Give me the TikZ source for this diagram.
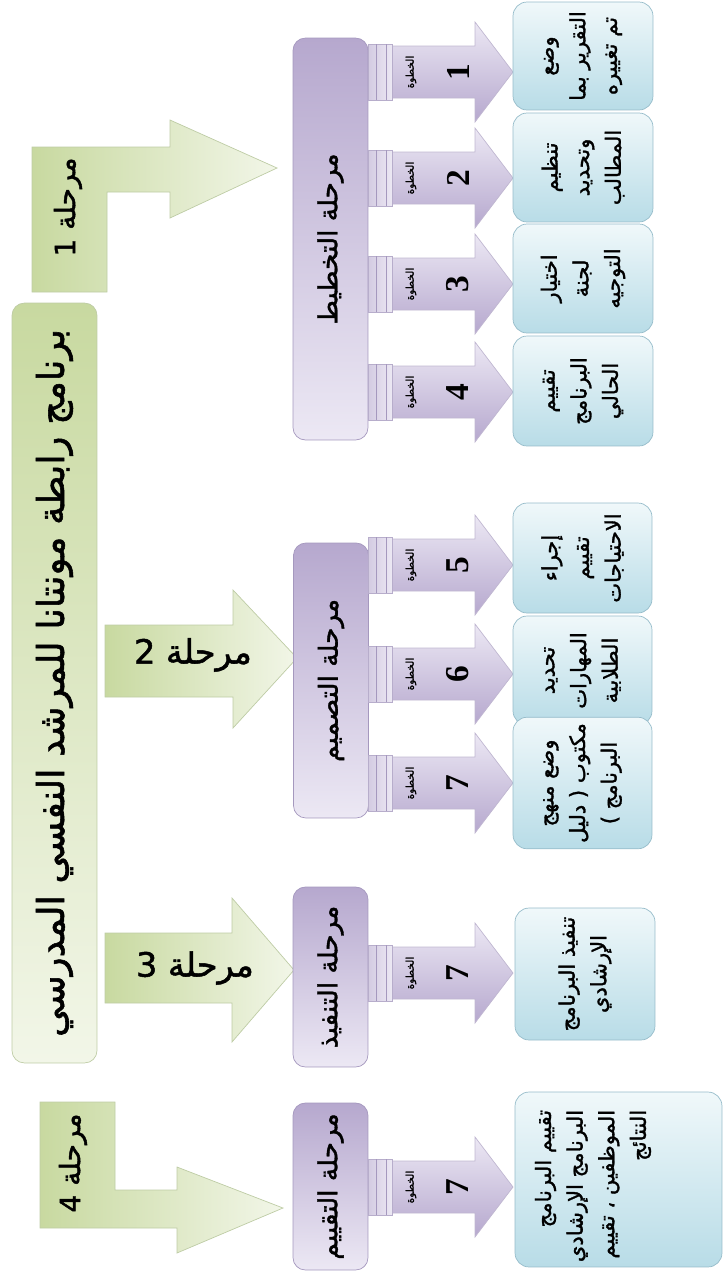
\documentclass[tikz,border=0pt]{standalone}
\usepackage{fontspec}
\newfontfamily\arabicfont[Script=Arabic,FakeBold=1.5]{DejaVu Sans}
\newfontfamily\numfont{Liberation Serif}
\TeXXeTstate=1
\usetikzlibrary{positioning}

\definecolor{grnL}{RGB}{242,246,232}
\definecolor{grnD}{RGB}{200,217,160}
\definecolor{grnE}{RGB}{190,204,165}
\definecolor{purL}{RGB}{236,232,244}
\definecolor{purD}{RGB}{182,168,206}
\definecolor{purE}{RGB}{165,152,190}
\definecolor{bluL}{RGB}{240,248,250}
\definecolor{bluD}{RGB}{184,220,231}
\definecolor{bluE}{RGB}{150,188,202}

\newcommand{\ar}[1]{{\arabicfont\beginR #1\endR}}

\tikzset{
  titlebox/.style={draw=grnE, rounded corners=7pt, top color=grnD, bottom color=grnL,
    font=\fontsize{21}{24}\selectfont},
  greenarrow/.style={draw=grnE, left color=grnD, right color=grnL},
  phaselbl/.style={inner sep=1pt, font=\fontsize{16}{18}\selectfont},
  stagebar/.style={draw=purE, rounded corners=7pt, top color=purD, bottom color=purL,
    minimum height=1.5cm, font=\fontsize{15}{18}\selectfont},
  steparrow/.style={draw=purE!70, top color=purL, bottom color=purD},
  pillar/.style={draw=purE!80, left color=purD!60, right color=purL},
  steplbl/.style={inner sep=0pt, font=\fontsize{6}{7}\selectfont},
  stepnum/.style={inner sep=0pt, font=\fontsize{19}{20}\selectfont\numfont\bfseries},
  stepbox/.style={draw=bluE, rounded corners=8pt, top color=bluL, bottom color=bluD,
    align=center, font=\fontsize{12}{18}\selectfont},
  boxtext/.style={inner sep=0pt, font=\fontsize{12}{18}\selectfont}
}

\begin{document}
\begin{tikzpicture}[x=0.02cm,y=-0.02cm]
  \useasboundingbox (0,0) rectangle (725,1279);

  %%% programme title %%%
  \node[titlebox, rotate=90, minimum width=15.2cm, minimum height=1.7cm] (title) at (54.5,683)
    {\ar{برنامج رابطة مونتانا للمرشد النفسي المدرسي}};

  %%% phase arrows %%%
  \path[greenarrow] (32,292) -- (32,147) -- (170,147) -- (170,120) -- (277,168)
    -- (170,218) -- (170,192) -- (107,192) -- (107,292) -- cycle;
  \path[greenarrow] (105,625) -- (233,625) -- (233,590) -- (297,658)
    -- (233,728) -- (233,697) -- (105,697) -- cycle;
  \path[greenarrow] (105,933) -- (232,933) -- (232,898) -- (294,970)
    -- (232,1042) -- (232,1003) -- (105,1003) -- cycle;
  \path[greenarrow] (40,1102) -- (115,1102) -- (115,1190) -- (177,1190) -- (177,1167)
    -- (283,1208) -- (177,1253) -- (177,1228) -- (40,1228) -- cycle;

  \node[phaselbl, rotate=90] (ph1) at (68,207) {\ar{مرحلة 1}};
  \node[phaselbl, font=\fontsize{19}{21}\selectfont] (ph2) at (193,655) {\ar{مرحلة 2}};
  \node[phaselbl, font=\fontsize{19}{21}\selectfont] (ph3) at (195,968) {\ar{مرحلة 3}};
  \node[phaselbl, rotate=90] (ph4) at (73,1163) {\ar{مرحلة 4}};

  %%% stages %%%
  \node[stagebar, rotate=90, minimum width=8.04cm] (plan) at (330.5,239) {\ar{مرحلة التخطيط}};
  \node[stagebar, rotate=90, minimum width=5.5cm] (design) at (331,680.5) {\ar{مرحلة التصميم}};
  \node[stagebar, rotate=90, minimum width=3.6cm] (impl) at (330.5,977) {\ar{مرحلة التنفيذ}};
  \node[stagebar, rotate=90, minimum width=3.34cm] (evalu) at (330.5,1186.5) {\ar{مرحلة التقييم}};

  %%% steps %%%
  \foreach \c/\n [count=\i] in {72/1,178/2,284/3,392/4,565/5,674/6,783/7,973/7,1187/7}{
    \path[steparrow] (392,\c-26) -- (475,\c-26) -- (475,\c-50) -- (513,\c)
      -- (475,\c+50) -- (475,\c+26) -- (392,\c+26) -- cycle;
    \path[pillar] (368,\c-28) rectangle (392,\c+28);
    \draw[purE] (376,\c-28) -- (376,\c+28) (386,\c-28) -- (386,\c+28);
    \node[steplbl, rotate=90] (lbl\i) at (411,\c) {\ar{الخطوة}};
    \node[stepnum, rotate=90] (num\i) at (458,\c) {\n};
  }

  \node[stepbox, rotate=90, minimum width=2.16cm, minimum height=2.8cm] (b1) at (583,56)
    {\ar{وضع}\\\ar{التقرير بما}\\\ar{تم تغييره}};
  \node[stepbox, rotate=90, minimum width=2.18cm, minimum height=2.8cm] (b2) at (583,167.5)
    {\ar{تنظيم}\\\ar{وتحديد}\\\ar{المطالب}};
  \node[stepbox, rotate=90, minimum width=2.18cm, minimum height=2.8cm] (b3) at (583,278.5)
    {\ar{اختيار}\\\ar{لجنة}\\\ar{التوجيه}};
  \node[stepbox, rotate=90, minimum width=2.2cm, minimum height=2.8cm] (b4) at (583,391)
    {\ar{تقييم}\\\ar{البرنامج}\\\ar{الحالي}};
  \node[stepbox, rotate=90, minimum width=2.2cm, minimum height=2.78cm] (b5) at (582.5,558)
    {\ar{إجراء}\\\ar{تقييم}\\\ar{الاحتياجات}};
  \node[stepbox, rotate=90, minimum width=2.18cm, minimum height=2.78cm] (b6) at (582.5,670.5)
    {\ar{تحديد}\\\ar{المهارات}\\\ar{الطلابية}};
  \node[stepbox, rotate=90, minimum width=2.2cm, minimum height=2.78cm] (b7) at (582.5,783)
    {\ar{وضع منهج}\\\ar{مكتوب ( دليل}\\\ar{البرنامج )}};
  \node[stepbox, rotate=90, minimum width=2.64cm, minimum height=2.8cm] (b8) at (585,974)
    {\ar{تنفيذ البرنامج}\\\ar{الإرشادي}};
  \node[stepbox, rotate=90, minimum width=3.5cm, minimum height=4.14cm] (b9) at (618.5,1179.5) {};
  \node[boxtext, rotate=90, align=right] (t9) at (593,1186)
    {\ar{تقييم البرنامج}\\\ar{البرنامج الإرشادي}\\\ar{الموظفين ، تقييم}\\\ar{النتائج}};

\end{tikzpicture}
\end{document}
